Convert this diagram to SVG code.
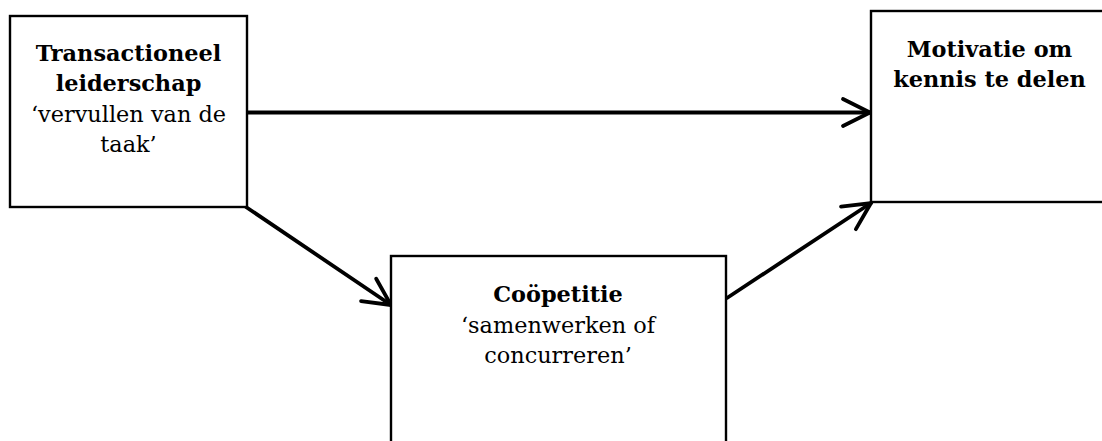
<svg xmlns="http://www.w3.org/2000/svg" width="1102" height="441" viewBox="0 0 1102 441">
<style>
.box{fill:#fff;stroke:#000;stroke-width:2.4}
.t{font-family:"DejaVu Serif","Liberation Serif",serif;font-size:22.4px;fill:#000;text-anchor:middle}
.b{font-weight:bold}
.conn{stroke:#000;stroke-width:3.8;fill:none;stroke-linecap:round}
</style>
<defs>
<marker id="arr" markerUnits="userSpaceOnUse" viewBox="-30 -16 32 32" markerWidth="32" markerHeight="32" refX="0" refY="0" orient="auto" overflow="visible">
<path d="M -27 -13.5 L 0 0 L -27 13.5" fill="none" stroke="#000" stroke-width="3.8" stroke-linecap="round" stroke-linejoin="miter"/>
</marker>
</defs>
<rect width="1102" height="441" fill="#fff"/>
<g id="connectors">
<line class="conn" x1="247" y1="112.5" x2="870" y2="112.5" marker-end="url(#arr)"/>
<line class="conn" x1="246" y1="207" x2="391" y2="305" marker-end="url(#arr)"/>
<line class="conn" x1="727" y1="298" x2="871" y2="203" marker-end="url(#arr)"/>
</g>
<g id="node-transactioneel">
<rect class="box" x="10" y="16" width="237" height="191"/>
<text class="t b" x="128.5" y="61">Transactioneel</text>
<text class="t b" x="128.5" y="91">leiderschap</text>
<text class="t" x="128.5" y="122">‘vervullen van de</text>
<text class="t" x="128.5" y="152">taak’</text>
</g>
<g id="node-motivatie">
<rect class="box" x="871" y="11" width="237" height="191"/>
<text class="t b" x="989.5" y="57">Motivatie om</text>
<text class="t b" x="989.5" y="87">kennis te delen</text>
</g>
<g id="node-coopetitie">
<rect class="box" x="391" y="256" width="335" height="200"/>
<text class="t b" x="558" y="302">Coöpetitie</text>
<text class="t" x="558" y="333">‘samenwerken of</text>
<text class="t" x="558" y="363">concurreren’</text>
</g>
</svg>
